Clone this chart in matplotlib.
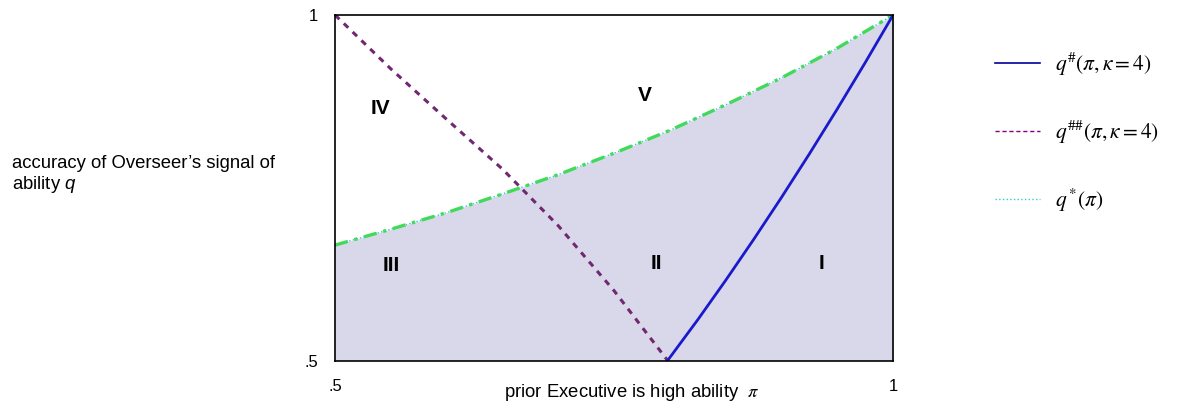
import numpy as np
import matplotlib
matplotlib.use("Agg")
from matplotlib import pyplot as plt

plt.rcParams["font.family"] = ["Liberation Sans", "DejaVu Sans"]
plt.rcParams["mathtext.fontset"] = "custom"
plt.rcParams["mathtext.it"] = "Liberation Sans:italic"
plt.rcParams["mathtext.rm"] = "Liberation Sans"

# values
pi_star = [0.50, 0.55, 0.60, 0.65, 0.70, 0.75, 0.80, 0.85, 0.90, 0.95, 1.00]
q_star = [0.667, 0.690, 0.714, 0.741, 0.769, 0.800, 0.833, 0.870, 0.909, 0.952, 1.000]

pi_hh = [0.50, 0.55, 0.60, 0.65, 0.70, 0.75, 0.798]
q_hh = [1.000, 0.922, 0.849, 0.777, 0.695, 0.601, 0.500]

pi_h = [0.798, 0.825, 0.85, 0.875, 0.90, 0.925, 0.95, 0.975, 1.00]
q_h = [0.500, 0.559, 0.616, 0.675, 0.736, 0.799, 0.864, 0.931, 1.000]

regions = ["I", "II", "III", "IV", "V"]
region_pi = [0.9355, 0.7876, 0.5502, 0.5403, 0.7778]
region_q = [0.641, 0.641, 0.638, 0.864, 0.883]

legend_labels = [r"$q^{\#}(\pi,\kappa=4)$", r"$q^{\#\#}(\pi,\kappa=4)$", r"$q\,^{*}(\pi)$"]

fig = plt.figure(figsize=(11.81, 4.13), dpi=100)
ax = fig.add_axes([0.2837, 0.1271, 0.4725, 0.8366])

ax.fill_between(pi_star, 0.5, q_star, color="#d8d8ea", lw=0)
ax.plot(pi_star, q_star, color="#44dd44", lw=2.4, ls=(0, (4, 2, 1, 2)))
l3, = ax.plot(pi_star, q_star, color="#33cccc", lw=1.0, ls=":")
l2, = ax.plot(pi_hh, q_hh, color="#702870", lw=2.2, ls=(0, (2.0, 2.0)))
l1, = ax.plot(pi_h, q_h, color="#1a1acc", lw=2.0)

for name, x, y in zip(regions, region_pi, region_q):
    ax.text(x, y, name, ha="center", va="center", fontsize=15, fontweight="bold")

ax.set_xlim(0.5, 1)
ax.set_ylim(0.5, 1)
ax.set_xticks([0.5, 1])
ax.set_xticklabels([".5", "1"], fontsize=12)
ax.set_yticks([0.5, 1])
ax.set_yticklabels([".5", "1"], fontsize=12)
ax.tick_params(length=0)
ax.tick_params(axis="y", pad=12)
ax.tick_params(axis="x", pad=13)
for s in ax.spines.values():
    s.set_linewidth(1.2)

ax.set_xlabel(r"prior Executive is high ability  $\pi$", fontsize=13.3,
              math_fontfamily="stix")
ax.xaxis.set_label_coords(0.531, -0.106)
ax.xaxis.label.set_va("baseline")
fig.text(0.010, 0.577, "accuracy of Overseer\u2019s signal of\nability $q$",
         fontsize=13.3, ha="left", va="center", linespacing=1.15)

leg = fig.legend([l1, l2, l3], legend_labels,
                 loc="upper left", bbox_to_anchor=(0.826, 0.925), frameon=False,
                 fontsize=15.5, handlelength=2.1, labelspacing=1.9, handletextpad=0.7)
for t in leg.get_texts():
    t.set_math_fontfamily("stix")
leg.legend_handles[0].set_color("#000099")
leg.legend_handles[0].set_linewidth(1.2)
leg.legend_handles[1].set_color("#800080")
leg.legend_handles[1].set_linewidth(1.0)
leg.legend_handles[1].set_linestyle((0, (3, 2)))

fig.savefig("out.png", dpi=100)
